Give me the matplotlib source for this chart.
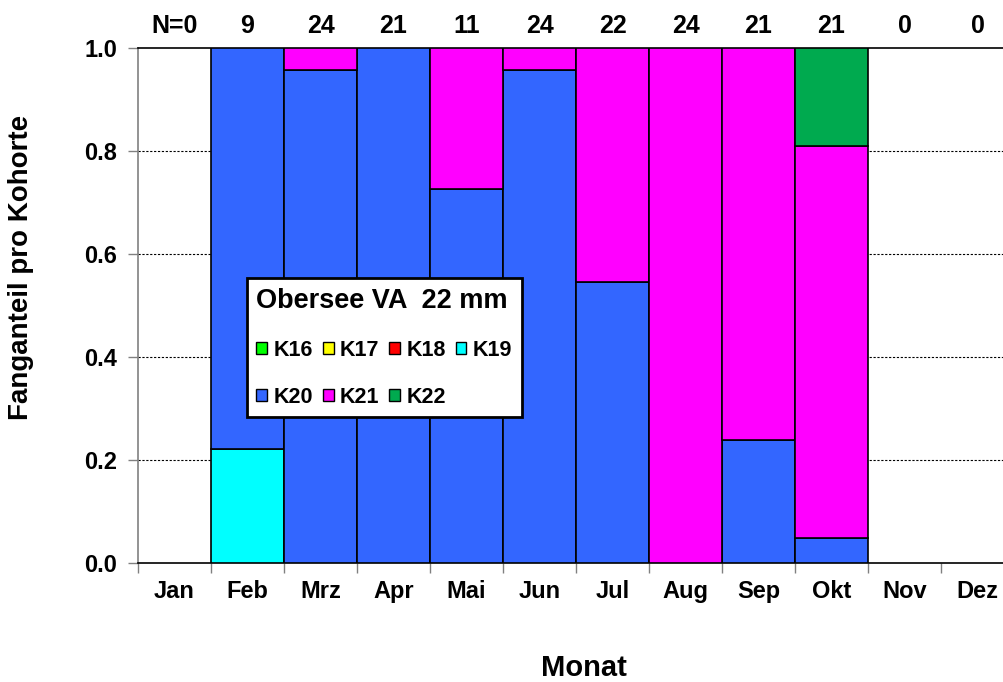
import matplotlib
matplotlib.use("Agg")
import matplotlib.pyplot as plt
from matplotlib.patches import Patch
import numpy as np

plt.rcParams['font.family'] = ['Liberation Sans', 'DejaVu Sans']
plt.rcParams['font.weight'] = 'bold'

months = ["Jan", "Feb", "Mrz", "Apr", "Mai", "Jun", "Jul", "Aug", "Sep", "Okt", "Nov", "Dez"]
n_labels = ["N=0", "9", "24", "21", "11", "24", "22", "24", "21", "21", "0", "0"]
cohorts = ["K16", "K17", "K18", "K19", "K20", "K21", "K22"]
colors = ["#00FF00", "#FFFF00", "#FF0000", "#00FFFF", "#3366FF", "#FF00FF", "#00AA4F"]

K16 = [0, 0, 0, 0, 0, 0, 0, 0, 0, 0, 0, 0]
K17 = [0, 0, 0, 0, 0, 0, 0, 0, 0, 0, 0, 0]
K18 = [0, 0, 0, 0, 0, 0, 0, 0, 0, 0, 0, 0]
K19 = [0, 0.222, 0, 0, 0, 0, 0, 0, 0, 0, 0, 0]
K20 = [0, 0.778, 0.958, 1.0, 0.727, 0.958, 0.545, 0, 0.238, 0.048, 0, 0]
K21 = [0, 0, 0.042, 0, 0.273, 0.042, 0.455, 1.0, 0.762, 0.762, 0, 0]
K22 = [0, 0, 0, 0, 0, 0, 0, 0, 0, 0.190, 0, 0]
series = [K16, K17, K18, K19, K20, K21, K22]

fig = plt.figure(figsize=(10.04, 6.82), dpi=100)
ax = fig.add_axes([0.1375, 0.1745, 0.8725, 0.7551])

x = np.arange(len(months))
bottom = np.zeros(len(months))
for vals, col in zip(series, colors):
    v = np.array(vals, dtype=float)
    mask = v > 0
    ax.bar(x[mask], v[mask], width=1.0, bottom=bottom[mask], color=col,
           edgecolor='black', linewidth=1.2, zorder=3)
    bottom += v

ax.set_xlim(-0.5, 11.5)
ax.set_ylim(0, 1.0)
ax.set_yticks([0, 0.2, 0.4, 0.6, 0.8, 1.0])
ax.set_yticklabels(["0.0", "0.2", "0.4", "0.6", "0.8", "1.0"])
for yv in [0.2, 0.4, 0.6, 0.8]:
    ax.axhline(yv, color='black', linestyle=(0, (2, 1.5)), linewidth=0.8, zorder=1)

ax.set_xticks(x)
ax.set_xticklabels(months)
ax.set_xticks(np.arange(-0.5, 12, 1.0), minor=True)
ax.tick_params(axis='x', which='major', length=0, pad=12, labelsize=17)
ax.tick_params(axis='x', which='minor', length=7, color='gray', width=1)
ax.tick_params(axis='y', length=7, color='gray', width=1, labelsize=17, pad=8)

for s in ['left', 'bottom', 'top']:
    ax.spines[s].set_linewidth(1.2)
ax.spines['left'].set_color('gray')
ax.spines['right'].set_visible(False)

for xi, lab in zip(x, n_labels):
    ax.text(xi, 1.042, lab, ha='center', va='center', fontsize=18, fontweight='bold',
            transform=ax.get_xaxis_transform())

ax.set_ylabel("Fanganteil pro Kohorte", fontsize=20, fontweight='bold')
ax.yaxis.set_label_coords(-0.119, 0.573)
fig.text(0.582, 0.0, "Monat", ha='center', va='bottom', fontsize=21, fontweight='bold')

order = [0, 4, 1, 5, 2, 6, 3]
handles = [Patch(facecolor=colors[i], edgecolor='black', linewidth=1) for i in order]
labels = [cohorts[i] for i in order]
leg = ax.legend(handles, labels, ncol=4, title="Obersee VA  22 mm",
                loc='upper left', bbox_to_anchor=(0.124, 0.553),
                prop={'size': 15.5, 'weight': 'bold'},
                title_fontproperties={'size': 19.5, 'weight': 'bold'},
                handlelength=0.5, handleheight=0.5, handletextpad=0.3,
                columnspacing=0.45, labelspacing=1.2, borderpad=0.45,
                borderaxespad=0,
                frameon=True, fancybox=False, framealpha=1, edgecolor='black')
leg.get_frame().set_linewidth(2)
leg._legend_box.align = "left"
leg.set_zorder(5)

fig.savefig("out.png", dpi=100)
